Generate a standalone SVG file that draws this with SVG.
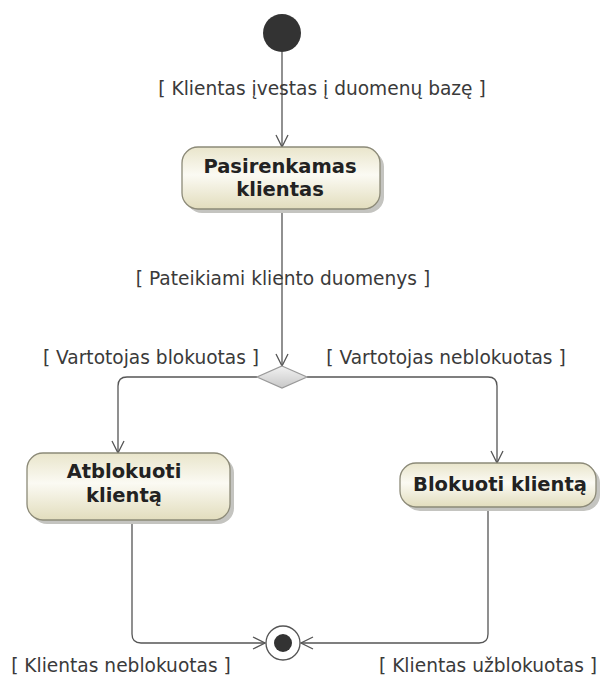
<svg xmlns="http://www.w3.org/2000/svg" width="601" height="677" viewBox="0 0 601 677">
<defs>
<linearGradient id="nodeFill" x1="0" y1="0" x2="0" y2="1">
<stop offset="0" stop-color="#e9e5cb"/>
<stop offset="0.45" stop-color="#fbfaf3"/>
<stop offset="1" stop-color="#e2ddbd"/>
</linearGradient>
<linearGradient id="diaFill" x1="0" y1="0" x2="0" y2="1">
<stop offset="0" stop-color="#f2f2f2"/>
<stop offset="1" stop-color="#c8c8c8"/>
</linearGradient>
<marker id="arrow" viewBox="0 0 14 14" refX="13" refY="7" markerWidth="14" markerHeight="14" markerUnits="userSpaceOnUse" orient="auto">
<path d="M1,1 L13,7 L1,13" fill="none" stroke="#555" stroke-width="1.3"/>
</marker>
</defs>
<style>
.node{fill:url(#nodeFill);stroke:#8c8a78;stroke-width:1.3}
.shadow{fill:#c4c4c0}
.ntext{font-family:"DejaVu Sans",Verdana,sans-serif;font-weight:bold;font-size:19.5px;fill:#222;text-anchor:middle}
.label{font-family:"DejaVu Sans",Verdana,sans-serif;font-size:18.6px;fill:#3a3a3a;text-anchor:middle}
.edge{fill:none;stroke:#555;stroke-width:1.3;marker-end:url(#arrow)}
</style>
<rect width="601" height="677" fill="#ffffff"/>
<g id="connectors">
<path class="edge" d="M282,52 L282,147"/>
<path class="edge" d="M282,209 L282,366"/>
<path class="edge" d="M257,377 L127,377 Q118,377 118,386 L118,453"/>
<path class="edge" d="M307,377 L488,377 Q497,377 497,386 L497,463"/>
<path class="edge" d="M132,520 L132,634 Q132,643 141,643 L265,643"/>
<path class="edge" d="M488,507 L488,634 Q488,643 479,643 L301,643"/>
</g>
<g id="labels">
<text class="label" x="322" y="95">[ Klientas įvestas į duomenų bazę ]</text>
<text class="label" x="283" y="285">[ Pateikiami kliento duomenys ]</text>
<text class="label" x="151" y="364">[ Vartotojas blokuotas ]</text>
<text class="label" x="446" y="364">[ Vartotojas neblokuotas ]</text>
<text class="label" x="121" y="672">[ Klientas neblokuotas ]</text>
<text class="label" x="488" y="672">[ Klientas užblokuotas ]</text>
</g>
<g id="start">
<circle cx="282" cy="33" r="19" fill="#333333"/>
</g>
<g id="pasirenkamas">
<rect class="shadow" x="186" y="151" width="198" height="62" rx="16"/>
<rect class="node" x="182" y="147" width="198" height="62" rx="16"/>
<text class="ntext" x="280" y="173">Pasirenkamas</text>
<text class="ntext" x="280" y="196">klientas</text>
</g>
<g id="decision">
<polygon points="282,366 307,377 282,388 257,377" fill="url(#diaFill)" stroke="#999" stroke-width="1.2"/>
</g>
<g id="atblokuoti">
<rect class="shadow" x="31" y="457" width="203" height="67" rx="16"/>
<rect class="node" x="27" y="453" width="203" height="67" rx="16"/>
<text class="ntext" x="124" y="478">Atblokuoti</text>
<text class="ntext" x="124" y="502">klientą</text>
</g>
<g id="blokuoti">
<rect class="shadow" x="404" y="467" width="196" height="44" rx="16"/>
<rect class="node" x="400" y="463" width="196" height="44" rx="16"/>
<text class="ntext" x="500" y="491">Blokuoti klientą</text>
</g>
<g id="final">
<circle cx="283" cy="643" r="17" fill="#ffffff" stroke="#555" stroke-width="1.3"/>
<circle cx="283" cy="643" r="9" fill="#333333"/>
</g>
</svg>
